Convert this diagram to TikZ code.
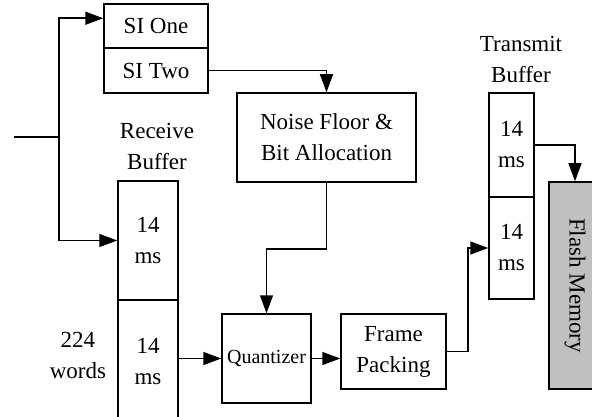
\documentclass[tikz,border=0pt]{standalone}
\usepackage{fontspec}
\setmainfont{Liberation Serif}
\usetikzlibrary{arrows.meta}

\begin{document}
\begin{tikzpicture}[x=1pt, y=-1pt, line width=1.5pt,
    font=\fontsize{23}{31}\selectfont,
    box/.style={draw, rectangle, inner sep=0pt, align=center},
    flow/.style={-{Triangle[length=18pt,width=13pt]}}]
        \useasboundingbox (0,0) rectangle (592,417);

        % side information
        \node[box, minimum width=104pt, minimum height=44pt] (sione) at (156,26) {SI One};
        \node[box, minimum width=104pt, minimum height=45pt] (sitwo) at (156,70.5) {SI Two};

        % noise floor
        \node[box, minimum width=179pt, minimum height=89pt] (noise) at (326.5,137.5) {Noise Floor \&\\Bit Allocation};

        % receive buffer
        \node[align=center] (rxlabel) at (157,146) {Receive\\Buffer};
        \node[box, minimum width=60pt, minimum height=119pt] (rxtop) at (148,240.5) {14\\ms};
        \node[box, minimum width=60pt, minimum height=124pt] (rxbot) at (148,362) {14\\ms};
        \node[align=center] (words) at (78,355) {224\\words};

        \node[box, minimum width=89pt, minimum height=89pt, font=\fontsize{20}{26}\selectfont] (quant) at (266.5,358.5) {Quantizer};
        \node[box, minimum width=105pt, minimum height=75pt] (frame) at (393.5,351.5) {Frame\\Packing};

        % transmit buffer
        \node[align=center] (txlabel) at (521,59) {Transmit\\Buffer};
        \node[box, minimum width=45pt, minimum height=104pt] (txtop) at (511.5,145) {14\\ms};
        \node[box, minimum width=45pt, minimum height=102pt] (txbot) at (511.5,248) {14\\ms};

        % flash
        \node[box, fill={rgb,255:red,192;green,192;blue,192}, minimum width=52pt, minimum height=207pt] (flash) at (575,285.5) {};
        \node[rotate=-90] (flashtext) at (flash.center) {Flash Memory};

        \coordinate (in) at (14,137);
        \coordinate (split) at (59,137);
        \draw (in) -- (split);
        \draw[flow] (split) |- ([yshift=-15pt]sione.north west);
        \draw[flow] (split) |- (rxtop.west);
        \draw[flow] (sitwo.east) -| (noise.north);
        \draw[flow] (noise.south) -- ++(0,66) -| (quant.north);
        \draw[flow] (rxbot.east |- quant.west) -- (quant.west);
        \draw[flow] (quant.east) -- (quant.east -| frame.west);
        \draw[flow] (frame.east) -- ++(21,0) |- (txbot.west);
        \draw[flow] (txtop.east) -| (flash.north);

    \end{tikzpicture}
\end{document}
